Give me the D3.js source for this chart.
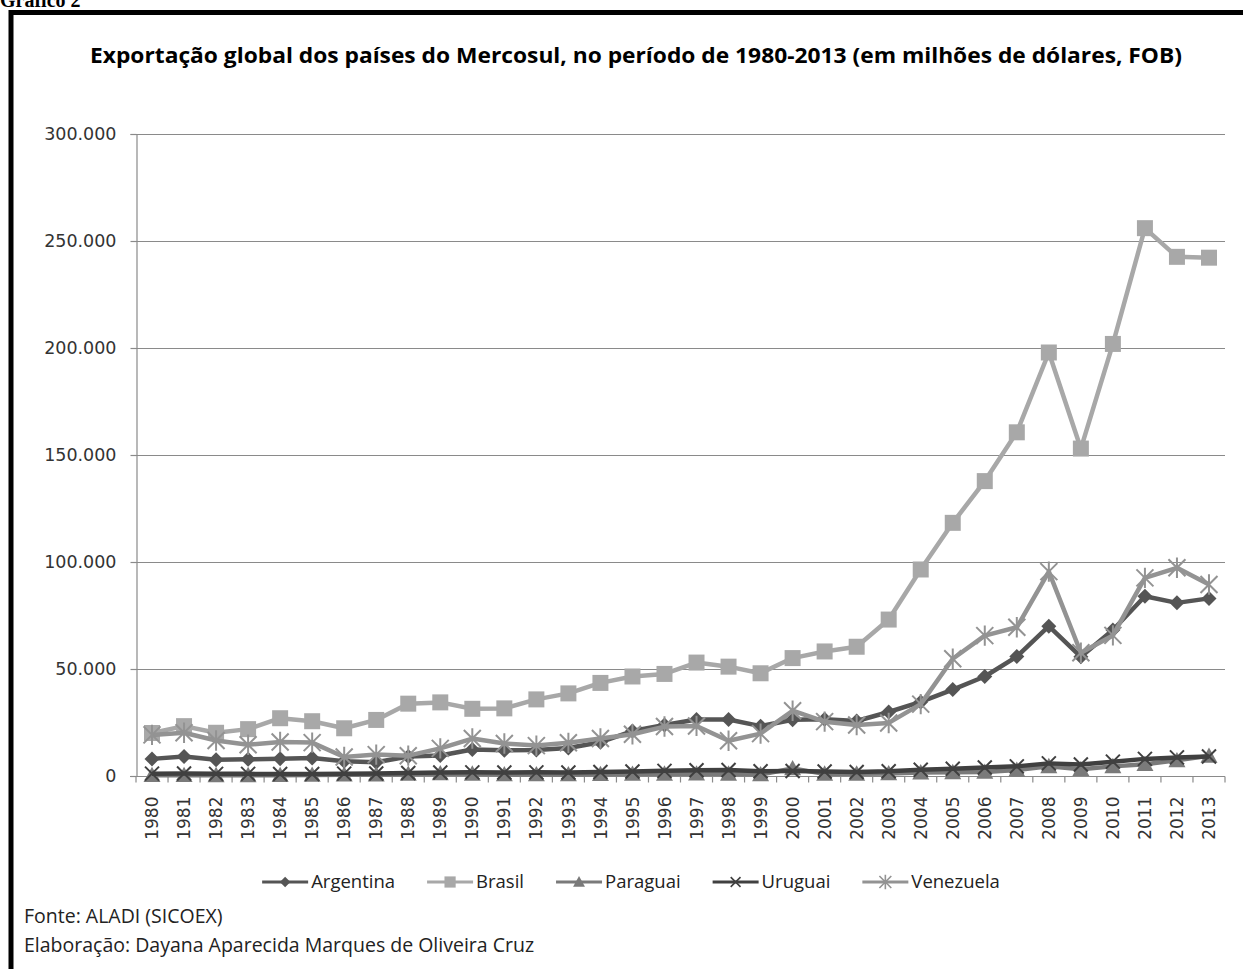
<!DOCTYPE html>
<html>
<head>
<meta charset="utf-8">
<script src="https://cdn.jsdelivr.net/npm/d3@7/dist/d3.min.js"></script>
<style>
  html, body { margin: 0; padding: 0; background: #fff; }
  svg { display: block; }
</style>
</head>
<body>
<svg id="chart" width="1243" height="969"></svg>
<script>
// ---------- DATA (milhões de dólares, FOB) ----------
const years = ["1980","1981","1982","1983","1984","1985","1986","1987","1988","1989",
  "1990","1991","1992","1993","1994","1995","1996","1997","1998","1999",
  "2000","2001","2002","2003","2004","2005","2006","2007","2008","2009",
  "2010","2011","2012","2013"];

const argentina = [8000, 9100, 7600, 7800, 8100, 8400, 6900, 6400, 9100, 9600,
  12400, 12000, 12200, 13100, 15800, 21000, 23800, 26400, 26400, 23300,
  26300, 26500, 25700, 29900, 34600, 40400, 46500, 55800, 70000, 55700,
  68200, 84000, 80900, 83000];

const brasil = [20100, 23300, 20200, 21900, 27000, 25600, 22300, 26200, 33800, 34400,
  31400, 31600, 35800, 38600, 43500, 46500, 47700, 53000, 51100, 48000,
  55100, 58200, 60400, 73100, 96500, 118300, 137800, 160600, 197900, 153000,
  201900, 256000, 242600, 242200];

const paraguai = [400, 400, 300, 300, 400, 500, 600, 600, 900, 1200,
  1000, 700, 700, 700, 800, 900, 1000, 1100, 1000, 700,
  3500, 1000, 1000, 1200, 1600, 1700, 1900, 2800, 4500, 3200,
  4500, 5500, 7300, 9400];

const uruguai = [1100, 1200, 1000, 1000, 900, 900, 1100, 1200, 1400, 1600,
  1700, 1600, 1700, 1600, 1900, 2100, 2400, 2700, 2800, 2200,
  2300, 2100, 1900, 2200, 2900, 3400, 4000, 4500, 5900, 5400,
  6700, 8000, 8700, 9100];

const venezuela = [19200, 20200, 16600, 14600, 15900, 15600, 8900, 10000, 9500, 12900,
  17500, 15200, 14200, 15500, 17500, 19500, 23100, 23400, 16500, 19800,
  30500, 25400, 23800, 24800, 33600, 54800, 65600, 69500, 95500, 57600,
  65700, 92600, 97300, 89500];

const seriesNames = ["Argentina", "Brasil", "Paraguai", "Uruguai", "Venezuela"];
const yTicks = [0, 50000, 100000, 150000, 200000, 250000, 300000];

const titleText = "Exportação global dos países do Mercosul, no período de 1980-2013 (em milhões de dólares, FOB)";
const sourceLines = ["Fonte: ALADI (SICOEX)", "Elaboração: Dayana Aparecida Marques de Oliveira Cruz"];
const figureLabel = "Gráfico 2";

// ---------- STYLES ----------
const styles = {
  Argentina: { color: "#555555", marker: "diamond", fill: true },
  Brasil:    { color: "#a8a8a8", marker: "square", fill: true },
  Paraguai:  { color: "#7a7a7a", marker: "triangle", fill: true },
  Uruguai:   { color: "#404040", marker: "x", fill: false },
  Venezuela: { color: "#939393", marker: "asterisk", fill: false }
};
const seriesValues = { Argentina: argentina, Brasil: brasil, Paraguai: paraguai, Uruguai: uruguai, Venezuela: venezuela };

const shapes = {
  diamond: r => `M0,${-r}L${r},0L0,${r}L${-r},0Z`,
  square: r => `M${-r},${-r}H${r}V${r}H${-r}Z`,
  triangle: r => `M0,${-r}L${r},${r*0.8}L${-r},${r*0.8}Z`,
  x: r => `M${-r},${-r}L${r},${r}M${-r},${r}L${r},${-r}`,
  asterisk: r => `M${-r},${-r}L${r},${r}M${-r},${r}L${r},${-r}M0,${-r*1.2}V${r*1.2}`
};
const markerR = { diamond: 7.5, square: 8, triangle: 8.5, x: 7, asterisk: 8.5 };

// ---------- LAYOUT ----------
const svg = d3.select("#chart");
const mLeft = 136, mRight = 1225, mTop = 134, mBottom = 776;

svg.append("path")
  .attr("d", `M11,1000V12.5H1300`)
  .attr("fill", "none").attr("stroke", "#000").attr("stroke-width", 5);

svg.append("text")
  .attr("x", 0).attr("y", 7)
  .attr("font-family", "'Liberation Serif', serif")
  .attr("font-weight", "bold").attr("font-size", 20)
  .attr("fill", "#000")
  .text(figureLabel);

svg.append("text")
  .attr("x", 636).attr("y", 63)
  .attr("text-anchor", "middle")
  .attr("font-family", "'Open Sans', sans-serif")
  .attr("font-weight", "bold").attr("font-size", 21)
  .attr("fill", "#000")
  .attr("textLength", 1092).attr("lengthAdjust", "spacingAndGlyphs")
  .text(titleText);

const x = d3.scaleBand().domain(years).range([mLeft, mRight]).padding(0);
const y = d3.scaleLinear().domain([0, 300000]).range([mBottom, mTop]);

const locale = d3.formatLocale({ decimal: ",", thousands: ".", grouping: [3], currency: ["", ""] });
const fmt = locale.format(",.0f");

svg.append("g").selectAll("line").data(yTicks.filter(d => d > 0)).join("line")
  .attr("x1", mLeft).attr("x2", mRight)
  .attr("y1", d => y(d) + 0.5).attr("y2", d => y(d) + 0.5)
  .attr("stroke", "#8a8a8a").attr("stroke-width", 1.2);

const yAxis = svg.append("g").attr("transform", `translate(${mLeft + 0.5},0)`)
  .call(d3.axisLeft(y).tickValues(yTicks).tickSize(6).tickPadding(14).tickFormat(fmt));
yAxis.select(".domain").attr("stroke", "#8a8a8a").attr("stroke-width", 1.2);
yAxis.selectAll(".tick line").attr("stroke", "#8a8a8a").attr("stroke-width", 1.2);
yAxis.selectAll(".tick text")
  .attr("font-family", "'DejaVu Sans', sans-serif").attr("font-size", 17.5).attr("fill", "#333");

const xAxis = svg.append("g").attr("transform", `translate(0,${mBottom + 0.5})`)
  .call(d3.axisBottom(x).tickSize(0).tickPadding(0));
xAxis.select(".domain").remove();
xAxis.append("line").attr("x1", mLeft - 6).attr("x2", mRight).attr("stroke", "#8a8a8a").attr("stroke-width", 1.2);
xAxis.selectAll(".tick text")
  .attr("font-family", "'DejaVu Sans', sans-serif").attr("font-size", 17).attr("fill", "#333")
  .attr("text-anchor", "end")
  .attr("transform", "translate(0,20) rotate(-90)")
  .attr("x", 0).attr("y", 0).attr("dy", "0.36em");
const boundaries = years.map(d => x(d)).concat([x.range()[1]]);
xAxis.append("g").selectAll("line").data(boundaries).join("line")
  .attr("x1", d => d).attr("x2", d => d).attr("y1", 0).attr("y2", 6)
  .attr("stroke", "#8a8a8a").attr("stroke-width", 1.2);

const line = d3.line().x((d, i) => x(years[i]) + x.bandwidth() / 2).y(d => y(d));
const plot = svg.append("g");
seriesNames.forEach(name => {
  const st = styles[name];
  const vals = seriesValues[name];
  const g = plot.append("g");
  g.append("path").datum(vals).attr("d", line)
    .attr("fill", "none").attr("stroke", st.color).attr("stroke-width", 4.5)
    .attr("stroke-linejoin", "round");
  g.selectAll("path.m").data(vals).join("path").attr("class", "m")
    .attr("transform", (d, i) => `translate(${x(years[i]) + x.bandwidth() / 2},${y(d)})`)
    .attr("d", shapes[st.marker](markerR[st.marker]))
    .attr("fill", st.fill ? st.color : "none")
    .attr("stroke", st.color).attr("stroke-width", st.fill ? 0 : 2);
});

const legend = svg.append("g");
const legY = 882;
let cx = 0;
seriesNames.forEach(name => {
  const st = styles[name];
  const g = legend.append("g").attr("transform", `translate(${cx},${legY})`);
  g.append("line").attr("x1", 0).attr("x2", 46).attr("stroke", st.color).attr("stroke-width", 3);
  g.append("path").attr("transform", "translate(23,0)")
    .attr("d", shapes[st.marker](markerR[st.marker] * 0.7))
    .attr("fill", st.fill ? st.color : "none")
    .attr("stroke", st.color).attr("stroke-width", st.fill ? 0 : 1.6);
  const t = g.append("text").attr("x", 49).attr("y", 0).attr("dy", "0.35em")
    .attr("font-family", "'Open Sans', sans-serif").attr("font-size", 18.5).attr("fill", "#222")
    .text(name);
  const w = 49 + t.node().getComputedTextLength();
  cx += w + 32;
});
const totalW = cx - 32;
legend.attr("transform", `translate(${631 - totalW / 2},0)`);

svg.append("g").selectAll("text").data(sourceLines).join("text")
  .attr("x", 24).attr("y", (d, i) => 923 + i * 29)
  .attr("font-family", "'Open Sans', sans-serif").attr("font-size", 19.5).attr("fill", "#222")
  .text(d => d);
</script>
</body>
</html>
